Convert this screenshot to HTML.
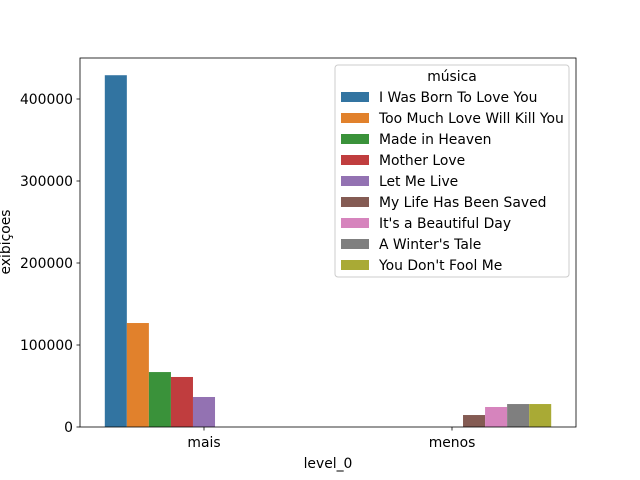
<!DOCTYPE html>
<html><head><meta charset="utf-8">
<style>
body{margin:0;background:#fff;}
svg{display:block;font-family:"DejaVu Sans","Liberation Sans",sans-serif;}
</style></head>
<body>
<svg id="chart" width="640" height="480">
<rect x="0" y="0" width="640" height="480" fill="#fff"/>
<g id="bars"></g>
<rect x="80" y="58" width="496" height="369" fill="none" stroke="#000" stroke-width="0.8"/>
<g id="yaxis"></g>
<g id="xaxis"></g>
<text x="328" y="468" font-size="13.9" text-anchor="middle">level_0</text>
<text transform="translate(10,242) rotate(-90)" font-size="13.9" text-anchor="middle">exibiçoes</text>
<g id="legend"></g>
</svg>
<script>
const categories = ["mais", "menos"];
const songs = ["I Was Born To Love You","Too Much Love Will Kill You","Made in Heaven","Mother Love","Let Me Live","My Life Has Been Saved","It's a Beautiful Day","A Winter's Tale","You Don't Fool Me"];
const songCategory = [0,0,0,0,0,1,1,1,1];
const values = [429000,126800,67000,61000,36600,14600,24400,28000,28000];
const yTicks = [0,100000,200000,300000,400000];
const colors = ["#3274a1","#e1812c","#3a923a","#c03d3e","#9372b2","#845b53","#d684bd","#7f7f7f","#a9aa35"];

const NS="http://www.w3.org/2000/svg";
const L=80,R=576,T=58,B=427;
const yMax=450000;
function y(v){return B-(v/yMax)*(B-T);}
const bandW=(R-L)/categories.length;
function xc(i){return L+bandW*(i+0.5);}
const barW=bandW*0.8/songs.length;
function mk(tag,attrs,parent){const e=document.createElementNS(NS,tag);for(const k in attrs)e.setAttribute(k,attrs[k]);parent.appendChild(e);return e;}

const gb=document.getElementById('bars');
songs.forEach((s,i)=>{
  const cx=xc(songCategory[i]);
  const x0=cx-bandW*0.4+i*barW;
  const r=mk('rect',{x:x0,y:y(values[i]),width:barW,height:B-y(values[i]),fill:colors[i]},gb);
  
  
});

const gy=document.getElementById('yaxis');
yTicks.forEach(t=>{
  const yy=y(t);
  mk('line',{x1:L-3.5,x2:L,y1:yy,y2:yy,stroke:'#000','stroke-width':0.8},gy);
  const tx=mk('text',{x:L-7,y:yy+5,'font-size':13.9,'text-anchor':'end'},gy);
  tx.textContent=t;
  
  
});
const gx=document.getElementById('xaxis');
categories.forEach((c,i)=>{
  const xx=xc(i);
  mk('line',{x1:xx,x2:xx,y1:B,y2:B+3.5,stroke:'#000','stroke-width':0.8},gx);
  const tx=mk('text',{x:xx,y:B+20,'font-size':13.9,'text-anchor':'middle'},gx);
  tx.textContent=c;
  
  
});

const gl=document.getElementById('legend');
mk('rect',{x:335,y:65,width:234,height:212,rx:3,fill:'#fff','fill-opacity':0.8,stroke:'#ccc'},gl);
const lt=mk('text',{x:452,y:81,'font-size':13.9,'text-anchor':'middle'},gl);
lt.textContent='música';


songs.forEach((s,i)=>{
  const yy=97+i*21;
  const g=mk('g',{},gl);
  
  
  mk('rect',{x:341,y:yy-5,width:28,height:10,fill:colors[i]},g);
  const t=mk('text',{x:379,y:yy+5,'font-size':13.9},g);
  t.textContent=s;
});
</script>
</body></html>
